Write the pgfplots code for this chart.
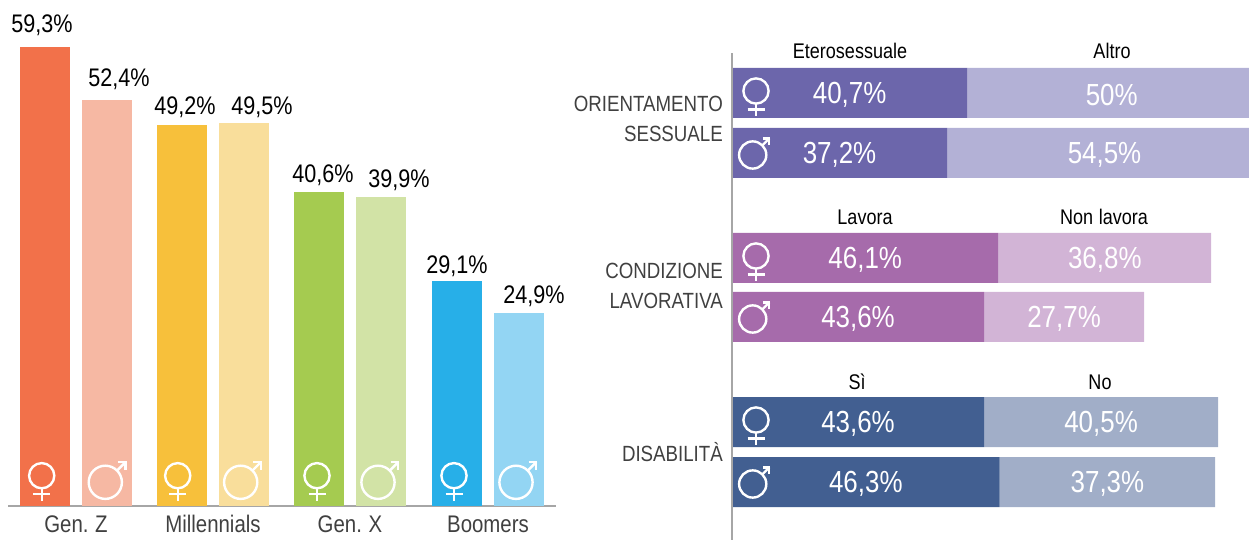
\documentclass[border=0pt]{standalone}
\usepackage{fontspec}
\setmainfont[FakeStretch=0.85,WordSpace=0.85]{Liberation Sans}
\usepackage{pgfplots}
\pgfplotsset{compat=1.18}
\definecolor{cOr}{HTML}{F2714A}\definecolor{cOrL}{HTML}{F6B8A3}
\definecolor{cYe}{HTML}{F7C03B}\definecolor{cYeL}{HTML}{F9DE9B}
\definecolor{cGr}{HTML}{A5CB50}\definecolor{cGrL}{HTML}{D2E3A6}
\definecolor{cBl}{HTML}{27AFE8}\definecolor{cBlL}{HTML}{93D5F3}
\definecolor{cPu}{HTML}{6C66AB}\definecolor{cPuL}{HTML}{B3B1D6}
\definecolor{cMa}{HTML}{A66BAB}\definecolor{cMaL}{HTML}{D2B4D6}
\definecolor{cNa}{HTML}{425F91}\definecolor{cNaL}{HTML}{A1AEC8}
\definecolor{axgray}{HTML}{A6A6A6}
\definecolor{txt}{HTML}{404040}
\newcommand\fem[3][white]{\begin{scope}[shift={(#2pt,{540pt-#3pt})},line width=2.4pt,draw=#1]
 \draw (0,0) circle (12.6pt);
 \draw (0,-12.6pt) -- (0,-25pt);
 \draw (-8.5pt,-18.5pt) -- (8.5pt,-18.5pt);
\end{scope}}
\newcommand\mal[4][white]{\begin{scope}[shift={(#2pt,{540pt-#3pt})},scale=#4,line width=2.4pt,draw=#1]
 \draw (0,0) circle (16.6pt);
 \draw (11.7pt,11.7pt) -- (20.3pt,20.3pt);
 \draw (12.5pt,20pt) -- (20pt,20pt) -- (20pt,12.5pt);
\end{scope}}
\pgfplotsset{
 leftbar/.style n args={3}{ybar,bar width=50pt,bar shift=0pt,fill=#1,draw=none,
   nodes near coords style={xshift=#2pt,yshift=#3pt}},
}
\begin{document}
\begin{tikzpicture}
\useasboundingbox (0,0) rectangle (1249pt,540pt);
\clip (0,0) rectangle (1249pt,540pt);
\begin{axis}[
  at={(8pt,34pt)},anchor=south west,scale only axis,width=548pt,height=506pt,
  xmin=8,xmax=556,ymin=0,ymax=65.37,clip=false,
  axis x line=bottom,axis y line=none,
  axis line style={-,draw=axgray,line width=2.4pt},
  xtick={76,213,350,488},xticklabels={Gen. Z,Millennials,Gen. X,Boomers},
  xtick style={draw=none},
  xticklabel style={font=\fontsize{24}{26}\selectfont,text=txt,yshift=-4pt,text height=17pt,text depth=0pt},
  nodes near coords={\pgfmathprintnumber[use comma,fixed,precision=1,assume math mode=true]{\pgfplotspointmeta}\%},
  nodes near coords style={font=\fontsize{25.4}{28}\selectfont,text=black,anchor=south,inner sep=0pt},
]
\addplot[leftbar={cOr}{-3}{11}] coordinates {(45,59.3)};
\addplot[leftbar={cOrL}{12}{10}] coordinates {(107,52.4)};
\addplot[leftbar={cYe}{3}{7}] coordinates {(182,49.2)};
\addplot[leftbar={cYeL}{18}{5}] coordinates {(244,49.5)};
\addplot[leftbar={cGr}{4}{6}] coordinates {(319,40.6)};
\addplot[leftbar={cGrL}{18}{6}] coordinates {(381,39.9)};
\addplot[leftbar={cBl}{0}{4}] coordinates {(457,29.1)};
\addplot[leftbar={cBlL}{15}{6}] coordinates {(519,24.9)};
\end{axis}
\pgfplotsset{
 rightax/.style={at={(732pt,0pt)},anchor=south west,scale only axis,width=578pt,height=540pt,
  xmin=0,xmax=100,ymin=0,ymax=540,y dir=reverse,axis lines=none,xbar stacked,bar width=50pt,
  point meta=rawx,
  nodes near coords={\pgfmathprintnumber[use comma,fixed,precision=1,assume math mode=true]{\pgfplotspointmeta}\%},
  nodes near coords style={font=\fontsize{30.5}{32}\selectfont,text=white,anchor=center,yshift=-2pt,inner sep=0pt},
 }
}
\begin{axis}[rightax]
\addplot[fill=cPu,draw=none] coordinates {(40.7,93) (37.2,153)};
\addplot[fill=cPuL,draw=none] coordinates {(50,93) (54.5,153)};
\end{axis}
\begin{axis}[rightax]
\addplot[fill=cMa,draw=none] coordinates {(46.1,258) (43.6,317)};
\addplot[fill=cMaL,draw=none] coordinates {(36.8,258) (27.7,317)};
\end{axis}
\begin{axis}[rightax]
\addplot[fill=cNa,draw=none] coordinates {(43.6,422) (46.3,482)};
\addplot[fill=cNaL,draw=none] coordinates {(40.5,422) (37.3,482)};
\end{axis}
\draw[axgray,line width=2.6pt] (732pt,0pt) -- (732pt,487pt);
% gender icons
\fem{41.7}{475.7}\mal{105.3}{482.3}{1}
\fem{177.7}{475.7}\mal{240.7}{482.3}{1}
\fem{317}{475.7}\mal{378}{482.3}{1}
\fem{454}{475.7}\mal{516}{482.3}{1}
\fem{756}{91}\mal{752.7}{155}{0.82}
\fem{756}{256}\mal{752.7}{319}{0.82}
\fem{756}{420}\mal{752.7}{484}{0.82}
% text
\tikzset{rowl/.style={font=\fontsize{22}{30}\selectfont,text=txt,align=right,anchor=east,inner sep=0pt},
 coll/.style={font=\fontsize{21.2}{24}\selectfont,text=black,inner sep=0pt}}
\node[rowl] at (723pt,{540pt-119pt}) {ORIENTAMENTO\\SESSUALE};
\node[rowl] at (723pt,{540pt-286pt}) {CONDIZIONE\\LAVORATIVA};
\node[rowl] at (723pt,{540pt-452pt}) {DISABILITÀ};
\node[coll] at (850pt,{540pt-51pt}) {Eterosessuale};
\node[coll] at (1112pt,{540pt-51pt}) {Altro};
\node[coll] at (865pt,{540pt-217pt}) {Lavora};
\node[coll] at (1104pt,{540pt-217pt}) {Non\hspace{1.5pt} lavora};
\node[coll] at (857pt,{540pt-382pt}) {Sì};
\node[coll] at (1100pt,{540pt-382pt}) {No};
\end{tikzpicture}
\end{document}
